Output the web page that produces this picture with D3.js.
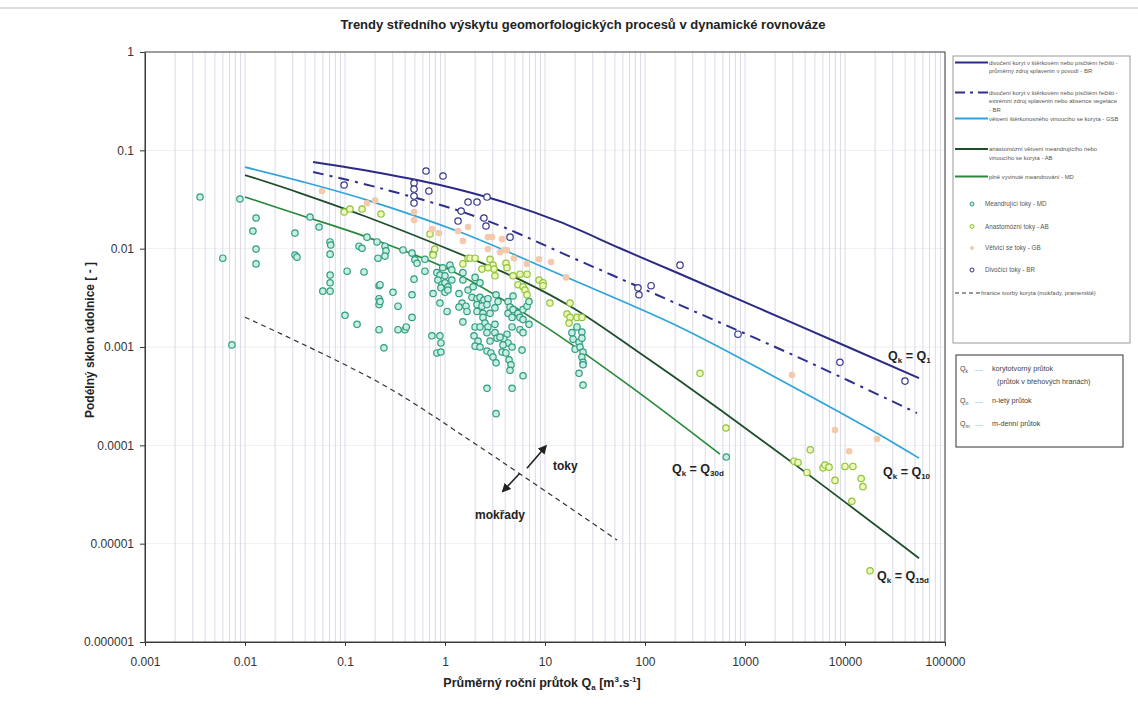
<!DOCTYPE html>
<html>
<head>
<meta charset="utf-8">
<title>Trendy středního výskytu geomorfologických procesů</title>
<script src="https://d3js.org/d3.v7.min.js"></script>
<style>
    body { margin: 0; background: #fff; }
    svg { display: block; font-family: "Liberation Sans", Arial, sans-serif; }
    .axis text { font-size: 12px; fill: #333; }
    .axis path, .axis line { stroke: #333; }
</style>
</head>
<body>
<svg id="chart" width="1138" height="706"></svg>
<script>
// ticks
const xTicks = [0.001, 0.01, 0.1, 1, 10, 100, 1000, 10000, 100000];
const xTickLabels = ["0.001", "0.01", "0.1", "1", "10", "100", "1000", "10000", "100000"];
const yTicks = [1, 0.1, 0.01, 0.001, 0.0001, 0.00001, 0.000001];
const yTickLabels = ["1", "0.1", "0.01", "0.001", "0.0001", "0.00001", "0.000001"];

// trend curves [Qa, S]
const curveBR = [[0.048, 0.076], [0.224, 0.0588], [0.891, 0.0444], [3.55, 0.0305], [14.1, 0.0187], [56.2, 0.0101], [224, 0.00552], [3550, 0.00163], [55000, 0.000483]];
const curveBRext = [[0.048, 0.0602], [0.224, 0.0413], [2.24, 0.0205], [22.4, 0.00748], [224, 0.00267], [3550, 0.00077], [52500, 0.000213]];
const curveGSB = [[0.01, 0.0676], [0.0355, 0.0487], [0.166, 0.0312], [1.41, 0.01475], [16.2, 0.00514], [224, 0.00159], [2820, 0.000409], [20900, 0.000133], [55000, 0.0000741]];
const curveAB = [[0.01, 0.0561], [0.0355, 0.0368], [0.166, 0.021], [1.78, 0.00802], [6.31, 0.00457], [19.1, 0.00249], [70.8, 0.00102], [224, 0.00045], [3020, 0.0000659], [55000, 0.00000711]];
const curveMD = [[0.01, 0.0335], [0.0355, 0.022], [0.166, 0.0131], [1.12, 0.00606], [8.91, 0.00175], [70.8, 0.0004], [562, 0.0000813]];
const curveLimit = [[0.01, 0.00201], [0.224, 0.00043], [2.24, 0.0000959], [52.5, 0.0000109]];

// measured rivers [Qa, S]
const pointsMD = [
    [0.00355, 0.0335], [0.006, 0.008], [0.0089, 0.032], [0.0129, 0.0205], [0.012, 0.0151], [0.0129, 0.0099], [0.0129, 0.007],
    [0.0316, 0.0144], [0.0316, 0.0086], [0.0331, 0.0082], [0.0447, 0.021], [0.055, 0.0166], [0.0708, 0.0117], [0.072, 0.0109],
    [0.071, 0.0088], [0.071, 0.0054], [0.071, 0.0045], [0.06, 0.0037], [0.071, 0.0037], [0.105, 0.0059], [0.155, 0.0058],
    [0.1, 0.0021], [0.132, 0.0017], [0.166, 0.0131], [0.138, 0.0106], [0.148, 0.0101], [0.209, 0.0117], [0.251, 0.0106],
    [0.257, 0.0095], [0.214, 0.008], [0.251, 0.0084], [0.219, 0.0042], [0.219, 0.0031], [0.219, 0.0027], [0.302, 0.0036],
    [0.339, 0.0026], [0.219, 0.0015], [0.339, 0.0015], [0.224, 0.0043], [0.224, 0.0029], [0.38, 0.0097], [0.468, 0.009],
    [0.5, 0.0077], [0.525, 0.0071], [0.63, 0.0078], [0.76, 0.0088], [0.49, 0.0049], [0.63, 0.0059], [0.76, 0.0035],
    [0.468, 0.0034], [0.245, 0.00098], [0.468, 0.002], [0.398, 0.0015], [0.41, 0.0016], [0.0074, 0.00105],
    [0.83, 0.0057], [0.89, 0.0054], [1.0, 0.0053], [0.95, 0.0064], [1.12, 0.0068], [1.17, 0.0061], [0.85, 0.0048],
    [0.93, 0.0043], [1.0, 0.0045], [1.07, 0.0041], [1.17, 0.0048], [0.91, 0.004], [1.0, 0.0036], [1.07, 0.0038],
    [0.89, 0.0028], [1.05, 0.0023], [0.74, 0.0013], [0.89, 0.0013], [0.91, 0.0011], [0.83, 0.00087], [0.91, 0.00089],
    [1.51, 0.0048], [1.51, 0.0057], [1.38, 0.0035], [1.48, 0.0028], [1.62, 0.0026], [1.38, 0.00255], [1.66, 0.0023],
    [1.51, 0.0018], [1.7, 0.0038], [1.91, 0.0041], [2.0, 0.0051], [1.86, 0.0032], [2.09, 0.0031], [2.24, 0.0045],
    [2.24, 0.0032], [2.45, 0.003], [2.69, 0.0031], [2.09, 0.0027], [2.34, 0.0026], [2.63, 0.0027], [2.09, 0.0023],
    [2.4, 0.0022], [2.82, 0.0022], [3.16, 0.0025], [3.24, 0.0034], [3.39, 0.0029], [2.4, 0.002], [2.51, 0.00175],
    [2.0, 0.0016], [2.24, 0.0016], [2.69, 0.0016], [3.16, 0.0017], [1.95, 0.0013], [2.14, 0.00115], [2.0, 0.00102],
    [2.24, 0.001], [2.63, 0.0014], [2.82, 0.00115], [3.16, 0.0014], [3.31, 0.00123], [2.63, 0.00091], [2.88, 0.00087],
    [3.02, 0.00079], [3.24, 0.00069], [2.63, 0.00038], [3.24, 0.00021],
    [4.27, 0.0029], [4.47, 0.00255], [4.27, 0.0022], [4.68, 0.002], [4.79, 0.0033], [4.79, 0.0024], [5.37, 0.0022],
    [6.03, 0.0024], [6.61, 0.0026], [6.92, 0.0029], [5.62, 0.002], [6.03, 0.0019], [4.68, 0.0016], [6.92, 0.0017],
    [5.62, 0.0015], [6.03, 0.0014], [4.17, 0.00135], [3.89, 0.0012], [4.27, 0.0011], [4.68, 0.001], [3.55, 0.00126],
    [3.8, 0.00105], [3.72, 0.00089], [4.07, 0.00087], [4.37, 0.00074], [4.57, 0.00066], [4.47, 0.00058], [5.89, 0.00093],
    [6.03, 0.00051], [4.68, 0.00038],
    [18.6, 0.0014], [20.9, 0.0016], [23.4, 0.00142], [19.1, 0.0012], [21.9, 0.00112], [23.4, 0.00123], [20.0, 0.00095],
    [22.4, 0.001], [24.0, 0.00089], [23.4, 0.00079], [24.0, 0.0007], [21.9, 0.00054], [24.0, 0.00041], [24.0, 0.00066],
    [650, 0.000076]
];
const pointsAB = [
    [0.098, 0.0236], [0.112, 0.0253], [0.148, 0.0253], [0.229, 0.0225], [0.708, 0.0141], [0.79, 0.0099], [0.76, 0.0086],
    [1.7, 0.008], [1.78, 0.008], [2.0, 0.008], [1.51, 0.007], [2.82, 0.0078], [3.02, 0.0068], [3.09, 0.0062], [2.34, 0.0062],
    [2.69, 0.0064], [3.16, 0.0053], [4.07, 0.0071], [4.17, 0.0064], [4.79, 0.0053], [5.62, 0.0055], [6.61, 0.0055],
    [5.37, 0.0043], [6.03, 0.0041], [6.31, 0.0038], [6.61, 0.0034], [8.71, 0.0048], [9.55, 0.0045], [9.55, 0.0042],
    [11.2, 0.0028], [17.8, 0.0028], [16.6, 0.00216], [17.8, 0.002], [20.9, 0.002], [23.4, 0.002], [17.4, 0.00175],
    [355, 0.00054], [646, 0.00015], [4500, 0.00009], [3090, 0.000069], [3390, 0.000067], [4170, 0.000053], [6030, 0.000059],
    [6310, 0.000063], [6920, 0.00006], [7940, 0.000044], [10000, 0.000061], [12000, 0.000061], [14500, 0.000046],
    [15100, 0.000038], [11700, 0.000027], [17800, 0.0000053]
];
const pointsGB = [
    [0.0589, 0.0386], [0.166, 0.029], [0.2, 0.031], [0.49, 0.0236], [0.49, 0.0195], [0.74, 0.0158], [0.87, 0.0144],
    [1.35, 0.0151], [1.7, 0.0166], [1.51, 0.012], [2.69, 0.0131], [2.95, 0.0131], [3.72, 0.0125], [2.69, 0.0099],
    [3.55, 0.0092], [3.89, 0.0097], [4.17, 0.0097], [4.9, 0.008], [6.61, 0.007], [8.71, 0.0078], [11.5, 0.0073],
    [16.2, 0.0051], [2950, 0.00052], [7940, 0.000143], [11000, 0.000087], [20900, 0.000116]
];
const pointsBR = [
    [0.098, 0.0444], [0.646, 0.0616], [0.955, 0.0548], [0.49, 0.0465], [0.49, 0.0404], [0.49, 0.0343], [0.49, 0.0291],
    [0.69, 0.0386], [1.7, 0.0298], [2.09, 0.0298], [2.63, 0.0335], [1.45, 0.0241], [1.35, 0.0191], [2.45, 0.0205],
    [2.57, 0.017], [4.47, 0.0131], [85, 0.004], [87, 0.0034], [115, 0.0042], [224, 0.0068], [851, 0.00135],
    [8900, 0.0007], [39800, 0.00045]
];

// curve labels: anchor [Qa, S], subscript of the right-hand Q
const curveLabels = [
    { at: [26900, 0.00083], sub: "1" },
    { at: [24000, 0.0000546], sub: "10" },
    { at: [186, 0.0000586], sub: "30d" },
    { at: [20900, 0.00000478], sub: "15d" }
];

const legendItems = [
    { kind: "line", color: "#2b2a85", dash: null, y: 62.5, text: ["divočení koryt v štěrkovém nebo písčitém řečišti -", "průměrný zdroj splavenin v povodí - BR"] },
    { kind: "line", color: "#2f2e8f", dash: "10,5,3,5", y: 92.5, text: ["divočení koryt v štěrkovém nebo písčitém řečišti -", "extrémní zdroj splavenin nebo absence vegetace", "- BR"] },
    { kind: "line", color: "#2ea3dc", dash: null, y: 118.5, text: ["větvení štěrkonosného vinoucího se koryta - GSB"] },
    { kind: "line", color: "#1e4d2b", dash: null, y: 149, text: ["anastomózní větvení meandrujícího nebo", "vinoucího se koryta - AB"] },
    { kind: "line", color: "#2a8a3a", dash: null, y: 176.5, text: ["plně vyvinuté meandrování - MD"] },
    { kind: "pt", series: "MD", y: 204, text: ["Meandrující toky - MD"] },
    { kind: "pt", series: "AB", y: 226.5, text: ["Anastomózní toky - AB"] },
    { kind: "pt", series: "GB", y: 248, text: ["Větvící se toky - GB"] },
    { kind: "pt", series: "BR", y: 270, text: ["Divočící toky - BR"] },
    { kind: "dash", color: "#333", dash: "4,3", y: 293, text: ["hranice tvorby koryta (mokřady, prameniště)"] }
];

const notes = [
    { sub: "k", text: "korytotvorný průtok", y: 371 },
    { sub: "", text: "(průtok v břehových hranách)", y: 383.5, indent: true },
    { sub: "n", text: "n-letý průtok", y: 403 },
    { sub: "m", text: "m-denní průtok", y: 426 }
];

const pointStyle = {
    MD: { stroke: "#2e9c80", fill: "#c9efe2" },
    AB: { stroke: "#8cc43c", fill: "#f0f7b8" },
    GB: { stroke: "none", fill: "#f5c9ab" },
    BR: { stroke: "#35358a", fill: "#ffffff" }
};

const svg = d3.select("#chart");

const x = d3.scaleLog().domain([0.001, 100000]).range([145, 945]);
const y = d3.scaleLog().domain([0.000001, 1]).range([642, 52]);

// scan edge at the top
svg.append("line").attr("x1", 0).attr("x2", 1138).attr("y1", 8).attr("y2", 8)
    .attr("stroke", "#bcbcbc").attr("stroke-width", 1.2);

svg.append("text")
    .attr("x", 583).attr("y", 29)
    .attr("text-anchor", "middle")
    .style("font-size", "13px").style("font-weight", "bold").style("fill", "#222")
    .text("Trendy středního výskytu geomorfologických procesů v dynamické rovnováze");

// grid
svg.append("g").selectAll("line")
    .data(yTicks)
    .join("line")
    .attr("x1", 145).attr("x2", 945)
    .attr("y1", d => y(d)).attr("y2", d => y(d))
    .attr("stroke", "#efeff3");

svg.append("g").selectAll("line")
    .data(x.ticks(20))
    .join("line")
    .attr("x1", d => x(d)).attr("x2", d => x(d))
    .attr("y1", 52).attr("y2", 642)
    .attr("stroke", "#d6d6e6")
    .attr("stroke-width", 0.9);

// axes
svg.append("g")
    .attr("class", "axis")
    .attr("transform", "translate(0,642)")
    .call(d3.axisBottom(x).tickValues(xTicks).tickFormat((d, i) => xTickLabels[i]).tickSize(4).tickSizeOuter(0).tickPadding(11));

svg.append("g")
    .attr("class", "axis")
    .attr("transform", "translate(145,0)")
    .call(d3.axisLeft(y).tickValues(yTicks).tickFormat((d, i) => yTickLabels[i]).tickSize(5).tickSizeOuter(0).tickPadding(6));

// frame
svg.append("rect")
    .attr("x", 145).attr("y", 52).attr("width", 800).attr("height", 590)
    .attr("fill", "none").attr("stroke", "#444").attr("stroke-width", 1);

// axis titles
svg.append("text")
    .attr("transform", "translate(94,340) rotate(-90)")
    .attr("text-anchor", "middle")
    .style("font-size", "12px").style("font-weight", "bold").style("fill", "#222")
    .text("Podélný sklon údolnice [ - ]");

const xTitle = svg.append("text")
    .attr("x", 542).attr("y", 687)
    .attr("text-anchor", "middle")
    .style("font-size", "12.5px").style("font-weight", "bold").style("fill", "#222");
xTitle.append("tspan").text("Průměrný roční průtok Q");
xTitle.append("tspan").attr("dy", 3).style("font-size", "8px").text("a");
xTitle.append("tspan").attr("dy", -3).text(" [m");
xTitle.append("tspan").attr("dy", -5).style("font-size", "8px").text("3");
xTitle.append("tspan").attr("dy", 5).text(".s");
xTitle.append("tspan").attr("dy", -5).style("font-size", "8px").text("-1");
xTitle.append("tspan").attr("dy", 5).text("]");

// curves
const line = d3.line()
    .x(d => x(d[0]))
    .y(d => y(d[1]))
    .curve(d3.curveCatmullRom.alpha(0.5));

const curves = [
    { data: curveLimit, color: "#333", width: 1.2, dash: "5,4" },
    { data: curveMD, color: "#2a8a3a", width: 1.7, dash: null },
    { data: curveAB, color: "#1e4d2b", width: 1.8, dash: null },
    { data: curveGSB, color: "#2ea3dc", width: 1.7, dash: null },
    { data: curveBRext, color: "#2f2e8f", width: 2, dash: "11,6,3,6" },
    { data: curveBR, color: "#2b2a85", width: 2, dash: null }
];

svg.append("g").selectAll("path")
    .data(curves)
    .join("path")
    .attr("d", d => line(d.data))
    .attr("fill", "none")
    .attr("stroke", d => d.color)
    .attr("stroke-width", d => d.width)
    .attr("stroke-dasharray", d => d.dash);

// points
const series = [["MD", pointsMD], ["AB", pointsAB], ["GB", pointsGB], ["BR", pointsBR]];
series.forEach(([name, pts]) => {
    const st = pointStyle[name];
    svg.append("g").selectAll("circle")
        .data(pts)
        .join("circle")
        .attr("cx", d => x(d[0]))
        .attr("cy", d => y(d[1]))
        .attr("r", name === "GB" ? 3.3 : 3.2)
        .attr("fill", st.fill)
        .attr("stroke", st.stroke)
        .attr("stroke-width", 1.2);
});

// curve labels
curveLabels.forEach(l => {
    const t = svg.append("text")
        .attr("x", x(l.at[0])).attr("y", y(l.at[1]) + 5)
        .style("font-size", "12.5px").style("font-weight", "bold").style("fill", "#222");
    t.append("tspan").text("Q");
    t.append("tspan").attr("dy", 3).style("font-size", "8px").text("k");
    t.append("tspan").attr("dy", -3).text(" = Q");
    t.append("tspan").attr("dy", 3).style("font-size", "8px").text(l.sub);
});

// arrows toky / mokřady
svg.append("defs").append("marker")
    .attr("id", "head")
    .attr("viewBox", "0 0 10 10")
    .attr("refX", 8).attr("refY", 5)
    .attr("markerWidth", 9).attr("markerHeight", 9)
    .attr("markerUnits", "userSpaceOnUse")
    .attr("orient", "auto")
    .append("path").attr("d", "M0,0 L10,5 L0,10 z").attr("fill", "#222");

const arrows = [
    { from: [6.6, 0.0000586], to: [10.2, 0.000098] },
    { from: [5.6, 0.000052], to: [3.8, 0.0000342] }
];
svg.append("g").selectAll("line")
    .data(arrows)
    .join("line")
    .attr("x1", d => x(d.from[0])).attr("y1", d => y(d.from[1]))
    .attr("x2", d => x(d.to[0])).attr("y2", d => y(d.to[1]))
    .attr("stroke", "#222").attr("stroke-width", 1.6)
    .attr("marker-end", "url(#head)");

svg.append("text")
    .attr("x", x(12)).attr("y", y(0.000061) + 4)
    .style("font-size", "12px").style("font-weight", "bold").style("fill", "#222")
    .text("toky");
svg.append("text")
    .attr("x", x(3.55)).attr("y", y(0.0000195) + 4)
    .attr("text-anchor", "middle")
    .style("font-size", "12px").style("font-weight", "bold").style("fill", "#222")
    .text("mokřady");

// legend box
const lg = svg.append("g");
lg.append("rect")
    .attr("x", 953).attr("y", 56).attr("width", 177).attr("height", 287)
    .attr("fill", "#fff").attr("stroke", "#9a9a9a").attr("stroke-width", 1);

legendItems.forEach(it => {
    let tx = 989;
    if (it.kind === "line") {
        lg.append("line").attr("x1", 955).attr("x2", 988).attr("y1", it.y).attr("y2", it.y)
            .attr("stroke", it.color).attr("stroke-width", 2).attr("stroke-dasharray", it.dash);
    } else if (it.kind === "dash") {
        lg.append("line").attr("x1", 955).attr("x2", 980).attr("y1", it.y).attr("y2", it.y)
            .attr("stroke", it.color).attr("stroke-width", 1).attr("stroke-dasharray", it.dash);
        tx = 981;
    } else {
        const st = pointStyle[it.series];
        lg.append("circle").attr("cx", 972).attr("cy", it.y).attr("r", 2)
            .attr("fill", st.fill).attr("stroke", st.stroke).attr("stroke-width", 1);
        tx = 985;
    }
    it.text.forEach((s, i) => {
        lg.append("text")
            .attr("x", tx).attr("y", it.y + 2 + i * 8.5)
            .style("font-size", it.kind === "pt" ? "6.3px" : "5.9px")
            .style("fill", "#555")
            .text(s);
    });
});

// notation box
const nb = svg.append("g");
nb.append("rect")
    .attr("x", 956).attr("y", 355).attr("width", 167).attr("height", 92)
    .attr("fill", "#fff").attr("stroke", "#333").attr("stroke-width", 1);
notes.forEach(n => {
    if (!n.indent) {
        const q = nb.append("text").attr("x", 960).attr("y", n.y)
            .style("font-size", "7px").style("fill", "#444");
        q.append("tspan").text("Q");
        q.append("tspan").attr("dy", 2).style("font-size", "5px").text(n.sub);
        nb.append("text").attr("x", 975).attr("y", n.y)
            .style("font-size", "7px").style("fill", "#777").text("....");
    }
    nb.append("text").attr("x", n.indent ? 997 : 992).attr("y", n.y)
        .style("font-size", "7.2px").style("fill", "#444").text(n.text);
});
</script>
</body>
</html>
